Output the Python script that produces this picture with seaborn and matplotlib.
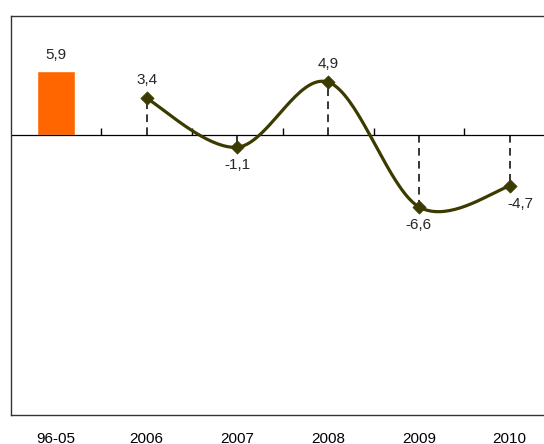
import numpy as np
import pandas as pd
import seaborn as sns
import matplotlib.pyplot as plt

sns.set_style('white')
plt.rcParams['font.family'] = ['Liberation Sans', 'DejaVu Sans']

categories = ["96-05", "2006", "2007", "2008", "2009", "2010"]
avg_value = 5.9
years = ["2006", "2007", "2008", "2009", "2010"]
year_values = [3.4, -1.1, 4.9, -6.6, -4.7]

line_color = '#3b3b00'
bar_color = '#ff6600'
fs = 11


def _smooth(xs, ys, n=40):
    # catmull-rom style smoothing, like the spreadsheet "smoothed line"
    px = np.concatenate([[xs[0]], xs, [xs[-1]]])
    py = np.concatenate([[ys[0]], ys, [ys[-1]]])
    out_x, out_y = [], []
    t = np.linspace(0, 1, n)
    h00 = 2 * t**3 - 3 * t**2 + 1
    h10 = t**3 - 2 * t**2 + t
    h01 = -2 * t**3 + 3 * t**2
    h11 = t**3 - t**2
    for i in range(1, len(px) - 2):
        mx0 = (px[i + 1] - px[i - 1]) / 2
        mx1 = (px[i + 2] - px[i]) / 2
        my0 = (py[i + 1] - py[i - 1]) / 2
        my1 = (py[i + 2] - py[i]) / 2
        out_x.extend(h00 * px[i] + h10 * mx0 + h01 * px[i + 1] + h11 * mx1)
        out_y.extend(h00 * py[i] + h10 * my0 + h01 * py[i + 1] + h11 * my1)
    return np.array(out_x), np.array(out_y)


fig = plt.figure(figsize=(5.44, 4.44), dpi=100)
ax = fig.add_axes([10.6 / 544, 1 - 415 / 444, 544.4 / 544, 399 / 444])

bar_df = pd.DataFrame({"period": categories,
                       "value": [avg_value] + [np.nan] * len(years)})
sns.barplot(data=bar_df, x="period", y="value", order=categories,
            color=bar_color, saturation=1, width=0.41, ax=ax)

xpos = np.array([categories.index(y) for y in years], dtype=float)
vals = np.array(year_values)

ax.vlines(xpos, 0, vals, colors='black', linestyles=(0, (5, 3.5)), lw=1.1, zorder=2)

sx, sy = _smooth(xpos, vals)
ax.plot(sx, sy, color=line_color, lw=2.3, zorder=3, solid_capstyle='round')
sns.scatterplot(x=xpos, y=vals, marker='D', s=45, color=line_color,
                edgecolor=line_color, zorder=4, ax=ax)

ax.axhline(0, color='black', lw=0.9, zorder=1)

ax.set_xlim(-0.5, 5.5)
ax.set_ylim(-25.8, 11)

# value labels
ax.annotate(f"{avg_value:.1f}".replace('.', ','), (0, avg_value),
            xytext=(0, 7), textcoords='offset points', ha='center',
            va='bottom', fontsize=fs)
for x, v in zip(xpos, vals):
    lab = f"{v:.1f}".replace('.', ',')
    if v >= 0:
        ax.annotate(lab, (x, v), xytext=(0, 8), textcoords='offset points',
                    ha='center', va='bottom', fontsize=fs)
    elif x == xpos[-1]:
        ax.annotate(lab, (x, v), xytext=(8, -8), textcoords='offset points',
                    ha='center', va='top', fontsize=fs)
    else:
        ax.annotate(lab, (x, v), xytext=(0, -8), textcoords='offset points',
                    ha='center', va='top', fontsize=fs)

# small tick marks on the zero line between categories
zero_loc = (0 - ax.get_ylim()[0]) / (ax.get_ylim()[1] - ax.get_ylim()[0])
sec = ax.secondary_xaxis(zero_loc)
for s in sec.spines.values():
    s.set_visible(False)
sec.set_xticks(np.arange(0.5, 5, 1))
sec.set_xticklabels([])
sec.tick_params(direction='out', length=5, width=1, color='black',
                labelbottom=False, labeltop=False)

ax.set_xlabel("")
ax.set_ylabel("")
ax.set_yticks([])
ax.tick_params(axis='x', length=0, pad=12, labelsize=fs, labelcolor='black')
for s in ax.spines.values():
    s.set_color('#333333')
    s.set_linewidth(1)

fig.savefig("out.png", dpi=100)
